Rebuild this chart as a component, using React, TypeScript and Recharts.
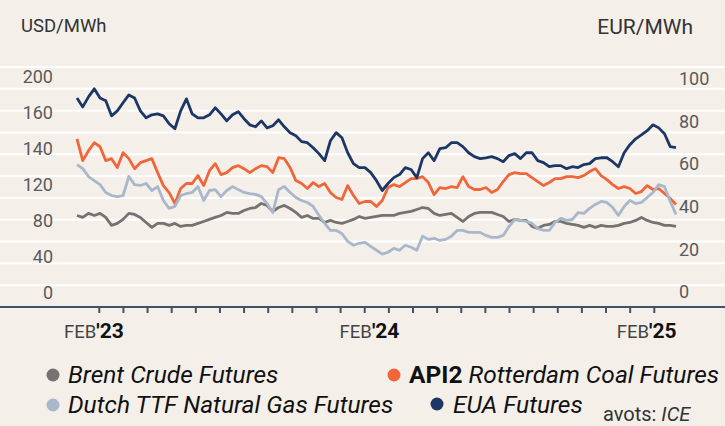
import React from 'react';
import { LineChart, Line, XAxis, YAxis, ReferenceLine } from 'recharts';

// Months since 1 Jan 2023, sampled weekly-ish (quarter month)
const BRENT = [63.9,62.1,65.8,63.9,65.8,62.1,54.8,56.6,60.3,65.8,
64.8,62.1,57.5,53.0,56.6,56.6,54.8,56.6,53.9,54.8,
54.8,56.6,58.4,60.3,62.1,63.9,66.7,65.8,65.8,68.5,
70.3,71.2,74.9,73.1,67.6,71.2,73.1,70.3,66.7,62.1,
63.9,61.2,61.2,57.5,59.4,57.5,56.6,58.4,60.3,63.0,
61.2,62.1,63.0,63.9,63.9,63.9,65.8,66.7,67.6,69.4,
71.2,70.3,65.8,63.9,64.8,65.8,62.1,58.4,63.0,65.8,
66.7,66.7,66.7,64.8,63.0,58.4,60.3,59.4,59.4,53.9,
52.1,54.8,55.7,58.4,58.4,56.6,55.7,54.8,53.0,54.8,
53.0,54.8,53.9,53.9,54.8,56.6,57.5,59.4,62.1,59.4,
57.5,56.6,54.8,54.8,53.9];

const API2 = [134.2,114.2,123.3,130.6,126.9,114.2,116.0,107.8,121.5,116.0,
106.8,112.3,114.2,116.0,103.2,91.3,84.9,74.9,88.6,93.2,
93.2,100.5,91.3,105.0,111.4,101.4,103.2,107.8,109.6,106.8,
103.2,106.8,109.6,108.7,103.2,116.9,116.0,107.8,95.9,93.2,
88.6,94.1,90.4,93.2,84.9,80.4,78.5,91.3,82.2,74.9,
76.7,76.7,72.1,77.6,89.5,92.2,90.4,94.1,97.7,97.7,
99.5,94.1,83.1,89.5,88.6,90.4,89.5,99.5,90.4,87.7,
87.7,89.5,84.9,87.7,95.0,101.4,103.2,102.3,102.3,98.6,
95.0,91.3,94.1,97.7,97.7,99.5,99.5,98.6,100.5,104.1,
106.8,100.5,96.8,92.2,88.6,90.4,88.6,84.0,85.8,91.3,
87.7,88.6,84.0,79.5,74.0];

const TTF = [55.3,53.4,49.8,47.9,46.1,42.5,41.1,40.6,41.1,49.8,
46.1,45.7,46.6,43.4,45.2,38.8,35.2,36.1,41.1,42.0,
42.5,45.2,38.8,43.4,43.8,40.6,43.4,45.2,43.8,42.5,
42.0,41.6,40.6,37.4,33.3,43.8,45.2,42.5,40.2,38.8,
37.9,36.1,32.0,28.3,25.1,25.1,23.7,20.1,18.3,19.2,
19.6,17.8,16.0,14.2,15.1,16.9,16.0,18.3,17.4,16.0,
22.4,21.0,21.5,20.5,21.0,22.4,25.1,25.1,24.2,24.2,
24.2,22.8,21.9,21.9,22.8,26.9,30.1,29.7,29.2,28.3,
26.0,25.1,25.1,28.8,30.6,29.7,30.1,33.3,32.9,35.2,
37.0,38.4,37.9,35.6,32.0,36.1,38.8,37.4,37.9,40.2,
42.5,46.1,45.2,38.4,32.4];

const EUA = [85.8,81.7,86.3,90.0,85.8,84.5,77.6,79.9,83.6,87.2,
85.8,79.9,76.7,78.1,78.5,77.6,74.0,71.7,79.9,85.4,
78.5,76.7,76.7,78.1,81.3,78.5,75.3,78.1,79.5,76.3,
73.5,72.6,75.3,72.1,73.1,75.8,72.6,69.9,68.5,65.8,
65.3,63.0,60.3,57.1,66.2,69.9,67.6,60.7,55.7,53.9,
53.9,51.6,47.9,43.4,46.6,49.3,50.7,53.9,53.0,49.3,
58.0,60.7,57.1,62.6,63.0,65.3,65.3,63.5,60.7,58.9,
58.0,58.4,58.9,58.0,56.6,59.4,60.3,58.0,60.7,60.7,
57.1,56.2,54.3,54.8,54.8,53.4,54.3,53.9,55.3,55.7,
58.0,58.4,58.4,56.6,54.3,60.7,64.4,67.1,68.9,70.8,
73.5,72.1,69.4,63.5,63.0];

const MONTHS = EUA.map((_, i) => i * 0.25);

const X_TICKS = [0.968,2.015,3.063,4.110,5.158,6.205,7.252,8.300,9.347,10.395,11.442,12.489,
13.537,14.584,15.632,16.679,17.726,18.774,19.821,20.869,21.916,22.963,24.011,25.058];
const YEAR_TICKS = [0.97, 12.93, 24.96];
const YEAR_LABELS = ["'23", "'24", "'25"];
const LEFT_TICKS = [0, 1, 2, 3, 4, 5, 6];
const LEFT_LABELS = ['0', '40', '80', '120', '140', '160', '200'];
const RIGHT_TICKS = [0, 20, 40, 60, 80, 100];
const GRID_TICKS = [0, 10, 20, 30, 40, 50, 60, 70, 80, 90, 100];

const SERIES = [
  { key: 'brent', name: 'Brent Crude Futures', color: '#767272', axis: 'usd' },
  { key: 'api2', name: 'Rotterdam Coal Futures', color: '#f0663a', axis: 'usd' },
  { key: 'ttf', name: 'Dutch TTF Natural Gas Futures', color: '#a9b7cb', axis: 'eur' },
  { key: 'eua', name: 'EUA Futures', color: '#1c3766', axis: 'eur' },
];

const BG = '#f4f0e9';
const AXIS = '#40536a';
const NUM = '#5a5a5a';
const FONT = 'Roboto, sans-serif';

const LeftTick = (p: any) => (
  <text x={53} y={p.y} dy="0.36em" textAnchor="end" fontSize={18} fill={NUM} fontFamily={FONT}>
    {LEFT_LABELS[p.payload.value]}
  </text>
);

const RightTick = (p: any) => (
  <text x={679} y={p.y} dy="0.36em" textAnchor="start" fontSize={18} fill={NUM} fontFamily={FONT}>
    {p.payload.value}
  </text>
);

const YearTick = (p: any) => {
  const i = YEAR_TICKS.indexOf(p.payload.value);
  return (
    <g>
      <text x={p.x - 3} y={338} textAnchor="end" fontSize={18.5} fill="#444" fontFamily={FONT}>FEB</text>
      <text x={p.x - 3} y={338} textAnchor="start" fontSize={21} fontWeight={700} fill="#111" fontFamily={FONT}>
        {YEAR_LABELS[i]}
      </text>
    </g>
  );
};

export default function App() {
  const data = MONTHS.map((t, i) => ({ t, brent: BRENT[i], api2: API2[i], ttf: TTF[i], eua: EUA[i] }));
  return (
    <div style={{ position: 'absolute', left: 0, top: 0, width: 725, height: 426, background: BG, overflow: 'hidden', fontFamily: FONT }}>
      <LineChart width={725} height={426} data={data} margin={{ top: 66, right: -2, bottom: 107, left: -1 }}>
        <XAxis xAxisId="main" dataKey="t" type="number" domain={[-3.342, 28.127]} allowDataOverflow
          ticks={X_TICKS} interval={0} tickFormatter={() => ''} height={12}
          axisLine={{ stroke: AXIS, strokeWidth: 2 }} tickLine={{ stroke: AXIS, strokeWidth: 2 }} tickSize={6} />
        <XAxis xAxisId="labels" orientation="top" dataKey="t" type="number" domain={[-3.342, 28.127]} allowDataOverflow
          ticks={YEAR_TICKS} interval={0} height={1} axisLine={false} tickLine={false} tick={YearTick} />
        <YAxis yAxisId="usd" domain={[-20, 200]} allowDataOverflow hide />
        <YAxis yAxisId="eur" orientation="right" domain={[-10, 100]} allowDataOverflow ticks={GRID_TICKS}
          interval={0} width={1} axisLine={false} tickLine={false} tick={false} />
        <YAxis yAxisId="leftLabels" orientation="left" domain={[-0.4155, 6.26]} allowDataOverflow ticks={LEFT_TICKS}
          interval={0} width={1} axisLine={false} tickLine={false} tick={LeftTick} />
        <YAxis yAxisId="rightLabels" orientation="right" domain={[-7.15, 105.5]} allowDataOverflow ticks={RIGHT_TICKS}
          interval={0} width={1} axisLine={false} tickLine={false} tick={RightTick} />
        {GRID_TICKS.map((v) => (
          <ReferenceLine key={'g' + v} xAxisId="main" yAxisId="eur" y={v} stroke="#ffffff" strokeWidth={2} ifOverflow="visible" />
        ))}
        {SERIES.map((s) => (
          <Line key={s.key} xAxisId="main" yAxisId={s.axis} dataKey={s.key} type="linear" stroke={s.color}
            strokeWidth={2.8} dot={false} activeDot={false} isAnimationActive={false} strokeLinejoin="round" />
        ))}
      </LineChart>
      <svg width={725} height={426} style={{ position: 'absolute', left: 0, top: 0, pointerEvents: 'none' }} fontFamily={FONT}>
        <text x={21} y={32} fontSize={18.5} fill="#333">USD/MWh</text>
        <text x={693} y={34} fontSize={21} fill="#333" textAnchor="end">EUR/MWh</text>
        <circle cx={53} cy={375} r={6.5} fill={SERIES[0].color} />
        <text x={68} y={383} fontSize={24.5} fontStyle="italic" fill="#111">{SERIES[0].name}</text>
        <circle cx={394} cy={375} r={6.5} fill={SERIES[1].color} />
        <text x={409} y={383} fontSize={24.5} fill="#111">
          <tspan fontWeight={700}>API2</tspan>
          <tspan fontStyle="italic">{' ' + SERIES[1].name}</tspan>
        </text>
        <circle cx={53} cy={405} r={6.5} fill={SERIES[2].color} />
        <text x={68} y={413} fontSize={24.5} fontStyle="italic" fill="#111">{SERIES[2].name}</text>
        <circle cx={437} cy={404} r={6.5} fill={SERIES[3].color} />
        <text x={453} y={413} fontSize={24.5} fontStyle="italic" fill="#111">{SERIES[3].name}</text>
        <text x={603} y={421} fontSize={20} fill="#333">
          avots: <tspan fontStyle="italic">ICE</tspan>
        </text>
      </svg>
    </div>
  );
}
